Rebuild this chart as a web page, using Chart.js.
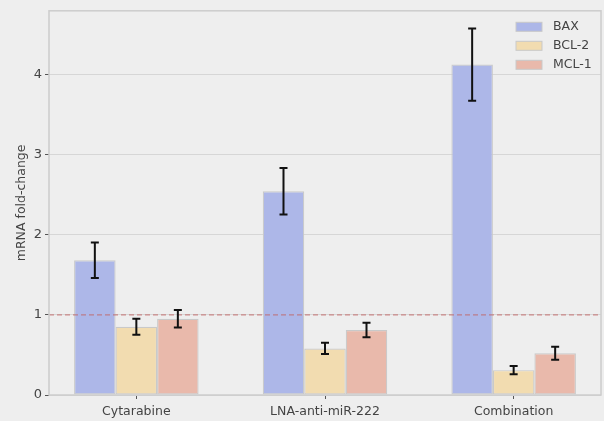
<!DOCTYPE html>
<html>
<head>
<meta charset="utf-8">
<script src="https://cdn.jsdelivr.net/npm/chart.js@4"></script>
<style>
  html, body { margin: 0; padding: 0; background: #eeeeee; }
  #wrap { width: 604px; height: 421px; }
</style>
</head>
<body>
<div id="wrap"><canvas id="c" width="604" height="421"></canvas></div>
<script>
// Treatments and genes
const categories = ['Cytarabine', 'LNA-anti-miR-222', 'Combination'];
const genes = ['BAX', 'BCL-2', 'MCL-1'];

// Mean fold-change per treatment
const baxValues = [1.68, 2.54, 4.12];
const bcl2Values = [0.85, 0.58, 0.31];
const mcl1Values = [0.95, 0.81, 0.52];

// Standard error per treatment
const baxErrors = [0.22, 0.29, 0.45];
const bcl2Errors = [0.10, 0.07, 0.05];
const mcl1Errors = [0.11, 0.09, 0.08];

const yTicks = [0, 1, 2, 3, 4];
const baseline = 1;

const colors = ['#adb7e8', '#f2dcb0', '#e9b9ab'];
const seriesValues = [baxValues, bcl2Values, mcl1Values];
const seriesErrors = [baxErrors, bcl2Errors, mcl1Errors];

const FONT = 'DejaVu Sans, sans-serif';
const TEXT = '#444444';

const datasets = genes.map((g, k) => ({
  label: g,
  data: seriesValues[k].map((v, i) => ({ x: i, y: v })),
  errors: seriesErrors[k],
  backgroundColor: colors[k],
  borderColor: '#c9c9c9',
  borderWidth: 1.2,
  borderSkipped: false,
  categoryPercentage: 0.66,
  barPercentage: 1.0
}));

const decorPlugin = {
  id: 'decor',
  beforeDraw(chart) {
    const { ctx, chartArea: a } = chart;
    ctx.save();
    ctx.fillStyle = '#eeeeee';
    ctx.fillRect(a.left, a.top, a.right - a.left, a.bottom - a.top);
    ctx.restore();
  },
  afterDatasetsDraw(chart) {
    const { ctx, chartArea: a, scales } = chart;
    const y = scales.y;
    ctx.save();
    // reference line at fold-change 1
    const yb = y.getPixelForValue(baseline);
    ctx.strokeStyle = 'rgba(192, 100, 100, 0.7)';
    ctx.lineWidth = 1.3;
    ctx.setLineDash([5, 3]);
    ctx.beginPath();
    ctx.moveTo(a.left, yb);
    ctx.lineTo(a.right, yb);
    ctx.stroke();
    ctx.setLineDash([]);
    // error bars
    ctx.strokeStyle = '#111111';
    ctx.lineWidth = 2;
    chart.data.datasets.forEach((ds, k) => {
      const meta = chart.getDatasetMeta(k);
      meta.data.forEach((bar, i) => {
        const v = ds.data[i].y, e = ds.errors[i];
        const x = bar.x;
        const y1 = y.getPixelForValue(v + e);
        const y0 = y.getPixelForValue(v - e);
        ctx.beginPath();
        ctx.moveTo(x, y0); ctx.lineTo(x, y1);
        ctx.moveTo(x - 4, y0); ctx.lineTo(x + 4, y0);
        ctx.moveTo(x - 4, y1); ctx.lineTo(x + 4, y1);
        ctx.stroke();
      });
    });
    ctx.restore();
  },
  afterDraw(chart) {
    const { ctx, chartArea: a } = chart;
    ctx.save();
    // axes frame
    ctx.strokeStyle = '#cccccc';
    ctx.lineWidth = 1.5;
    ctx.strokeRect(a.left, a.top, a.right - a.left, a.bottom - a.top);
    // legend
    ctx.font = '12.5px ' + FONT;
    ctx.textBaseline = 'middle';
    chart.data.datasets.forEach((ds, k) => {
      const cy = a.top + 16 + k * 19;
      ctx.fillStyle = ds.backgroundColor;
      ctx.fillRect(a.right - 85, cy - 4.5, 26, 9);
      ctx.strokeStyle = '#c9c9c9';
      ctx.lineWidth = 1;
      ctx.strokeRect(a.right - 85, cy - 4.5, 26, 9);
      ctx.fillStyle = TEXT;
      ctx.fillText(ds.label, a.right - 48, cy);
    });
    ctx.restore();
  }
};

new Chart(document.getElementById('c'), {
  type: 'bar',
  data: { datasets },
  plugins: [decorPlugin],
  options: {
    responsive: false,
    animation: false,
    devicePixelRatio: 1,
    layout: { padding: { left: 0, top: 10, right: 3, bottom: 0 } },
    plugins: { legend: { display: false }, tooltip: { enabled: false } },
    scales: {
      x: {
        type: 'linear',
        min: -0.463,
        max: 2.463,
        offset: false,
        afterBuildTicks(s) { s.ticks = categories.map((_, i) => ({ value: i })); },
        afterFit(s) { s.height = 26; },
        grid: { offset: false, drawOnChartArea: false, drawTicks: true, tickLength: 4, tickColor: '#555555', tickWidth: 1 },
        border: { display: false },
        ticks: {
          padding: 5,
          color: TEXT,
          font: { family: FONT, size: 12.5 },
          maxRotation: 0,
          autoSkip: false,
          callback: (v) => categories[v]
        }
      },
      y: {
        min: 0,
        max: 4.79,
        afterBuildTicks(s) { s.ticks = yTicks.map(v => ({ value: v })); },
        afterFit(s) { s.width = 49; },
        grid: { color: '#d6d6d6', lineWidth: 1, drawTicks: true, tickLength: 4, tickColor: '#555555', tickWidth: 1 },
        border: { display: false },
        ticks: { padding: 3, color: TEXT, font: { family: FONT, size: 13 } },
        title: {
          display: true,
          text: 'mRNA fold-change',
          color: TEXT,
          font: { family: FONT, size: 12.5 },
          padding: { top: 14, bottom: 0 }
        }
      }
    }
  }
});
</script>
</body>
</html>
